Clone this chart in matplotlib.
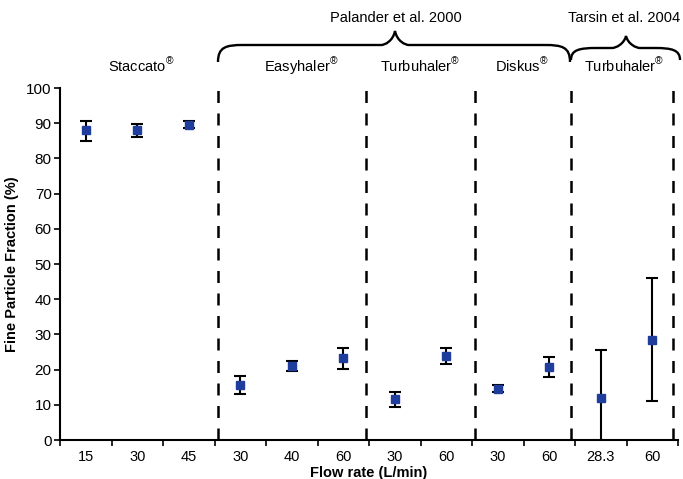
import matplotlib
matplotlib.use("Agg")
import matplotlib.pyplot as plt
from matplotlib.path import Path
from matplotlib.patches import PathPatch

plt.rcParams['font.family'] = ['Liberation Sans', 'DejaVu Sans']
plt.rcParams['mathtext.fontset'] = 'custom'
plt.rcParams['mathtext.rm'] = 'Liberation Sans'

# data
flow_labels = ['15', '30', '45', '30', '40', '60', '30', '60', '30', '60', '28.3', '60']
fpf = [88.1, 88.2, 89.5, 15.6, 21.0, 23.3, 11.6, 23.9, 14.6, 20.6, 12.0, 28.5]
err_lo = [3.1, 2.0, 1.0, 2.5, 1.4, 3.0, 2.1, 2.3, 1.0, 2.8, 13.6, 17.4]
err_hi = [2.5, 1.6, 1.0, 2.6, 1.4, 2.8, 1.9, 2.2, 1.0, 2.9, 13.6, 17.4]
devices = ['Staccato', 'Easyhaler', 'Turbuhaler', 'Diskus', 'Turbuhaler']
studies = ['Palander et al. 2000', 'Tarsin et al. 2004']
dividers = [2.57, 5.44, 7.56, 9.42, 11.40]

W, H = 683, 479
fig = plt.figure(figsize=(W / 100, H / 100), dpi=100)
ax = fig.add_axes([60 / W, 1 - 440 / H, 618 / W, 352 / H])

def fp(x, y):
    return (x / W, 1 - y / H)

xs = list(range(len(fpf)))
ax.errorbar(xs, fpf, yerr=[err_lo, err_hi], fmt='s', color='#1f3d9c',
            markersize=5.5, ecolor='black', elinewidth=1.5, capsize=4,
            capthick=1.5, zorder=3)

for d in dividers:
    ax.plot([d, d], [0, 101.5], color='black', lw=1.8, ls=(0, (4.8, 4.2)),
            clip_on=False, zorder=2)

ax.set_xlim(-0.5, 11.5)
ax.set_ylim(0, 100)
ax.set_yticks(range(0, 101, 10))
ax.set_xticks(xs)
ax.set_xticklabels(flow_labels)
ax.set_xticks([i - 0.5 for i in range(13)], minor=True)
ax.tick_params(axis='x', which='major', length=0, pad=7, labelsize=10.5)
ax.tick_params(axis='x', which='minor', length=4, width=1.2, direction='out')
ax.tick_params(axis='y', length=4, width=1.2, direction='out', labelsize=11, pad=2)
for s in ['top', 'right']:
    ax.spines[s].set_visible(False)
for s in ['left', 'bottom']:
    ax.spines[s].set_linewidth(1.5)

ax.set_xlabel('Flow rate (L/min)', fontweight='bold', fontsize=10.5, labelpad=2)
ax.set_ylabel('Fine Particle Fraction (%)', fontweight='bold', fontsize=10.5, labelpad=5)

# group labels
label_x = [141, 301, 420, 522, 624]
for name, x in zip(devices, label_x):
    fig.text(*fp(x, 66), name + r'$^{\mathrm{®}}$', ha='center', va='center', fontsize=10.5)
fig.text(*fp(396, 18), studies[0], ha='center', va='center', fontsize=10.5)
fig.text(*fp(624, 18), studies[1], ha='center', va='center', fontsize=10.5)

def brace(x0, x1, xm, ytip, yline, ypeak):
    pts = [(x0, ytip), (x0, yline + 2), (x0 + 8, yline), (x0 + 25, yline),
           (xm - 14, yline), (xm - 10, yline), (xm - 2, yline - 4), (xm, ypeak),
           (xm + 2, yline - 4), (xm + 10, yline), (xm + 14, yline),
           (x1 - 25, yline), (x1 - 8, yline), (x1, yline + 2), (x1, ytip)]
    codes = [Path.MOVETO, Path.CURVE4, Path.CURVE4, Path.CURVE4,
             Path.LINETO, Path.CURVE4, Path.CURVE4, Path.CURVE4,
             Path.CURVE4, Path.CURVE4, Path.CURVE4,
             Path.LINETO, Path.CURVE4, Path.CURVE4, Path.CURVE4]
    verts = [fp(x, y) for x, y in pts]
    fig.add_artist(PathPatch(Path(verts, codes), transform=fig.transFigure,
                             fill=False, lw=1.7, color='black'))

brace(218, 570, 395, 62, 45, 31)
brace(571, 680, 626, 60, 48, 36)

plt.savefig('out.png', dpi=100)
